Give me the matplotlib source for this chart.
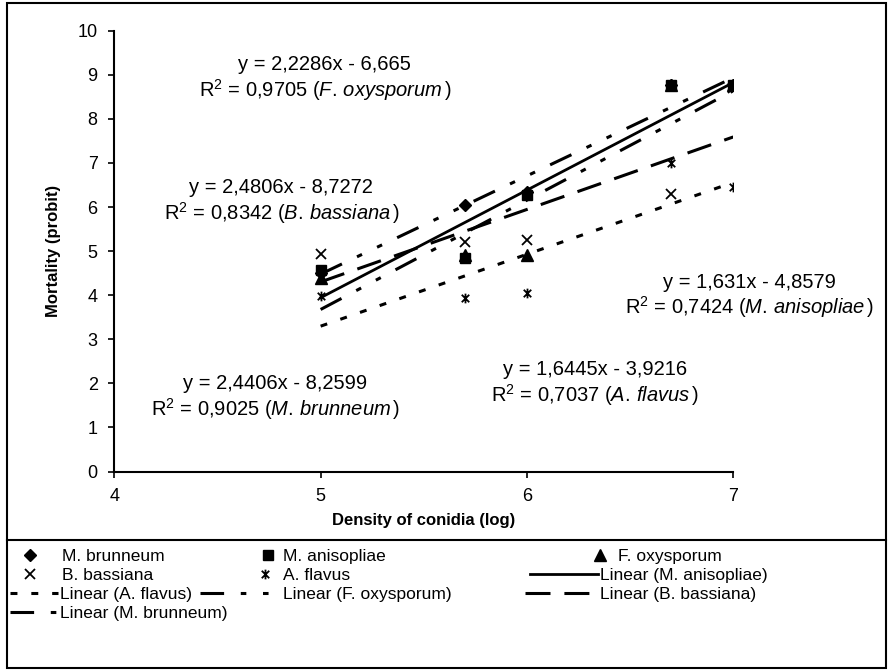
import numpy as np
import matplotlib
matplotlib.use("Agg")
import matplotlib.pyplot as plt
from matplotlib.lines import Line2D
from matplotlib.path import Path
from matplotlib.patches import Rectangle

plt.rcParams['font.family'] = ['Liberation Sans', 'DejaVu Sans']
plt.rcParams['mathtext.fontset'] = 'custom'
plt.rcParams['mathtext.rm'] = 'Liberation Sans'
plt.rcParams['mathtext.it'] = 'Liberation Sans:italic'
plt.rcParams['lines.scale_dashes'] = False

# data
density = [5, 5.7, 6, 6.7, 7]
m_brunneum = [4.5, 6.05, 6.35, 8.77, 8.77]
m_anisopliae = [4.57, 4.84, 6.27, 8.77, 8.77]
f_oxysporum = [4.4, 4.91, 4.91, 8.77, 8.77]
b_bassiana = [4.93, 5.21, 5.25, 6.30, 8.70]
a_flavus = [3.98, 3.94, 4.05, 7.00, 6.45]

# trendlines (slope, intercept) as drawn
trend_names = ['Linear (M. anisopliae)', 'Linear (A. flavus)', 'Linear (F. oxysporum)',
               'Linear (B. bassiana)', 'Linear (M. brunneum)']
trend_slope = [2.4406, 1.631, 2.4806, 1.6445, 2.2286]
trend_icpt = [-8.2599, -4.8579, -8.7272, -3.9216, -6.665]

# equation labels as printed on the chart
eq_text = [
    "y = 2,2286x - 6,665\nR$^2$ = 0,9705 ($\\mathit{F.\\,oxysporum}\\,$)",
    "y = 2,4806x - 8,7272\nR$^2$ = 0,8342 ($\\mathit{B.\\,bassiana}\\,$)",
    "y = 1,631x - 4,8579\nR$^2$ = 0,7424 ($\\mathit{M.\\,anisopliae}\\,$)",
    "y = 1,6445x - 3,9216\nR$^2$ = 0,7037 ($\\mathit{A.\\,flavus}\\,$)",
    "y = 2,4406x - 8,2599\nR$^2$ = 0,9025 ($\\mathit{M.\\,brunneum}\\,$)",
]
eq_x = [5.02, 4.81, 7.08, 6.33, 4.78]
eq_y = [8.91, 6.12, 3.97, 1.98, 1.67]

asterisk = Path([(-1, -1), (1, 1), (-1, 1), (1, -1), (0, -1.3), (0, 1.3)],
                [Path.MOVETO, Path.LINETO, Path.MOVETO, Path.LINETO, Path.MOVETO, Path.LINETO])

fig = plt.figure(figsize=(8.88, 6.70), dpi=100)
ax = fig.add_axes([114.3 / 888, 1 - 471.5 / 670, (733.3 - 114.3) / 888, (471.5 - 30.7) / 670])

h_pts = []
h_pts.append(ax.plot(density, m_brunneum, ls='none', marker='D', ms=6.5, color='k', label='M. brunneum')[0])
h_pts.append(ax.plot(density, m_anisopliae, ls='none', marker='s', ms=7.5, color='k', label='M. anisopliae')[0])
h_pts.append(ax.plot(density, f_oxysporum, ls='none', marker='^', ms=8.5, color='k', label='F. oxysporum')[0])
h_pts.append(ax.plot(density, b_bassiana, ls='none', marker='x', ms=6.5, mew=1.3, color='k', label='B. bassiana')[0])
h_pts.append(ax.plot(density, a_flavus, ls='none', marker=asterisk, ms=7, mew=1.3, color='k', label='A. flavus')[0])

styles = [
    dict(ls='-', lw=2.0),
    dict(ls=(0, (5, 10)), lw=2.2),
    dict(ls=(0, (17, 12, 4, 12, 4, 12)), lw=2.2),
    dict(ls=(0, (18, 10)), lw=2.2),
    dict(ls=(0, (17, 12, 4, 12, 4, 12)), lw=2.2),
]
xx = np.array([density[0], density[-1]])
h_lines = []
for name, s, b, st in zip(trend_names, trend_slope, trend_icpt, styles):
    h_lines.append(ax.plot(xx, s * xx + b, color='k', label=name, **st)[0])

for t, x, y in zip(eq_text, eq_x, eq_y):
    ax.text(x, y, t, ha='center', va='center', multialignment='center', fontsize=14.5, linespacing=1.15)

ax.set_xlim(4, 7)
ax.set_ylim(0, 10)
ax.set_xticks([4, 5, 6, 7])
ax.set_yticks(range(0, 11))
ax.spines['top'].set_visible(False)
ax.spines['right'].set_visible(False)
ax.spines['left'].set_linewidth(1.5)
ax.spines['bottom'].set_linewidth(1.5)
ax.tick_params(direction='out', length=4, width=1.2, labelsize=13, pad=8)
ax.set_xlabel('Density of conidia (log)', fontsize=12, fontweight='bold', labelpad=6)
ax.set_ylabel('Mortality (probit)', fontsize=12, fontweight='bold', labelpad=12)

# outer chart frame and legend box
fig.patches.append(Rectangle((7 / 888, 2 / 670), 879 / 888, 665 / 670, transform=fig.transFigure,
                             fill=False, lw=1.5, ec='k'))
fig.lines.append(Line2D([7 / 888, 886 / 888], [1 - 540 / 670, 1 - 540 / 670], transform=fig.transFigure,
                        color='k', lw=1.5))

# legend laid out cell by cell, like the Excel legend (pixels: handle start, handle length, text start, row)
leg_handles = h_pts[:3] + [h_pts[3], h_pts[4], h_lines[0]] + [h_lines[1], h_lines[2], h_lines[3]] + [h_lines[4]]
leg_hstart = [18, 260, 592, 18, 257, 530, 10, 200, 525, 10]
leg_hlen = [24, 16, 16, 24, 16, 68, 48, 81, 73, 48]
leg_tstart = [62, 283, 618, 62, 283, 600, 60, 283, 600, 60]
leg_row = [0, 0, 0, 1, 1, 1, 2, 2, 2, 3]
fs = 12.5
fs_px = fs * 100 / 72
for h, hs, hl, ts, r in zip(leg_handles, leg_hstart, leg_hlen, leg_tstart, leg_row):
    yc = 556 + 19 * r
    fig.legend(handles=[h], loc='center left', bbox_to_anchor=(hs / 888, 1 - yc / 670),
               frameon=False, fontsize=fs, handlelength=hl / fs_px, handletextpad=(ts - hs - hl) / fs_px,
               borderpad=0, borderaxespad=0, numpoints=1)

fig.savefig('out.png', dpi=100)
